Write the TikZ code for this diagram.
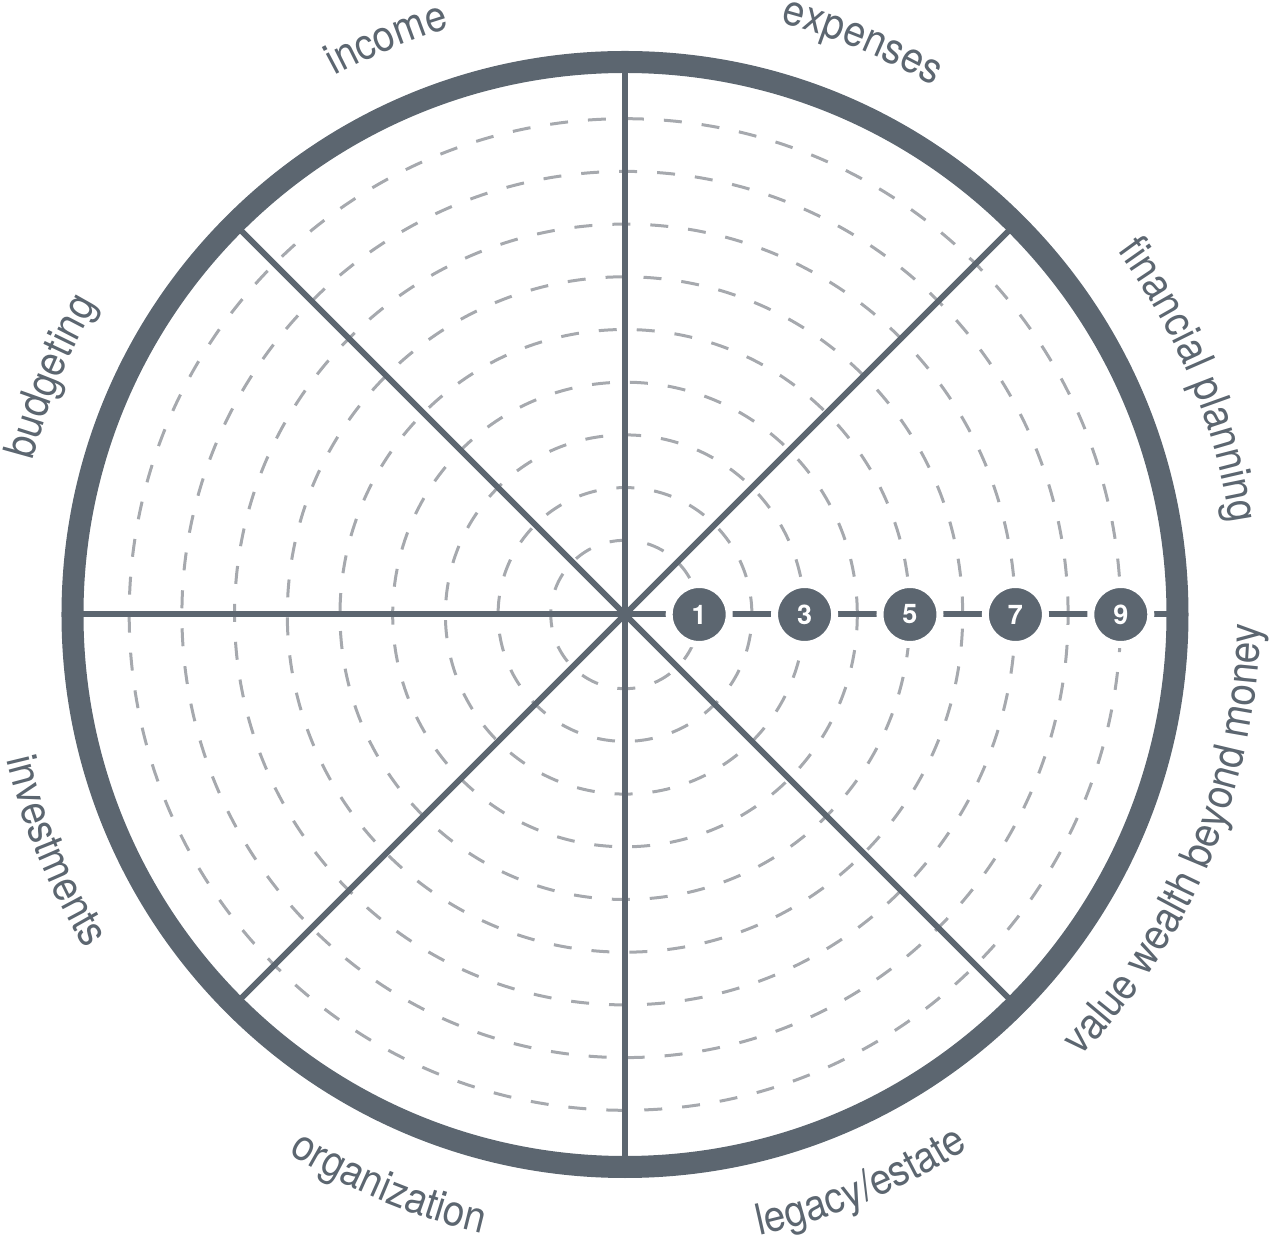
\documentclass[tikz,border=0pt]{standalone}
\usepackage{fontspec}
\usetikzlibrary{decorations.text}
\setmainfont{TeX Gyre Heros}
\newfontfamily\labfont[FakeStretch=0.9]{TeX Gyre Heros}
\definecolor{wheel}{HTML}{5C6670}
\definecolor{ring}{HTML}{A6A9AE}
% label along the top half (clockwise arc, tops outward)
\newcommand\toplabel[2]{%
  \path[decorate, decoration={text along path,
      text={|\labfont\fontsize{43}{43}\selectfont|#2},
      text align=center, text color=wheel}]
    ({#1+35}:612pt) arc[start angle={#1+35}, end angle={#1-35}, radius=612pt];}
% label along the bottom half (counter-clockwise arc, tops inward)
\newcommand\botlabel[2]{%
  \path[decorate, decoration={text along path,
      text={|\labfont\fontsize{43}{43}\selectfont|#2},
      text align=center, text color=wheel}]
    ({#1-35}:635pt) arc[start angle={#1-35}, end angle={#1+35}, radius=635pt];}
\begin{document}
\begin{tikzpicture}[
  ringline/.style={draw=ring, line width=3pt, dash pattern=on 18pt off 20pt},
  spoke/.style={draw=wheel, line width=6pt},
  rim/.style={draw=wheel, line width=22pt},
  numdisk/.style={circle, fill=wheel, draw=white, line width=7pt, minimum size=60pt, inner sep=0pt, text=white, font=\bfseries\fontsize{27}{27}\selectfont}
]
\useasboundingbox (-625pt,-626.5pt) rectangle (647pt,614.5pt);
\coordinate (O) at (0,0);
% dashed rings
\foreach \n in {1,...,9}
  \draw[ringline] (O) circle[radius={(21.5+52.7*\n)*1pt}];
% spokes
\foreach \a in {0,45,...,315} {
  \coordinate (s\a) at (\a:552.5pt);
  \draw[spoke] (O) -- (s\a);
}
% rim
\draw[rim] (O) circle[radius=552.5pt];
% scale numbers
\foreach \n in {1,3,5,7,9}
  \node[numdisk] (n\n) at ({(21.5+52.7*\n)*1pt},0) {\n};
% labels
\toplabel{112.5}{income}
\toplabel{67.5}{expenses}
\toplabel{22.5}{financial planning}
\toplabel{157.5}{budgeting}
\botlabel{-22.5}{value wealth beyond money}
\botlabel{-67.5}{legacy/estate}
\botlabel{-112.5}{organization}
\botlabel{-157.5}{investments}
\end{tikzpicture}
\end{document}
